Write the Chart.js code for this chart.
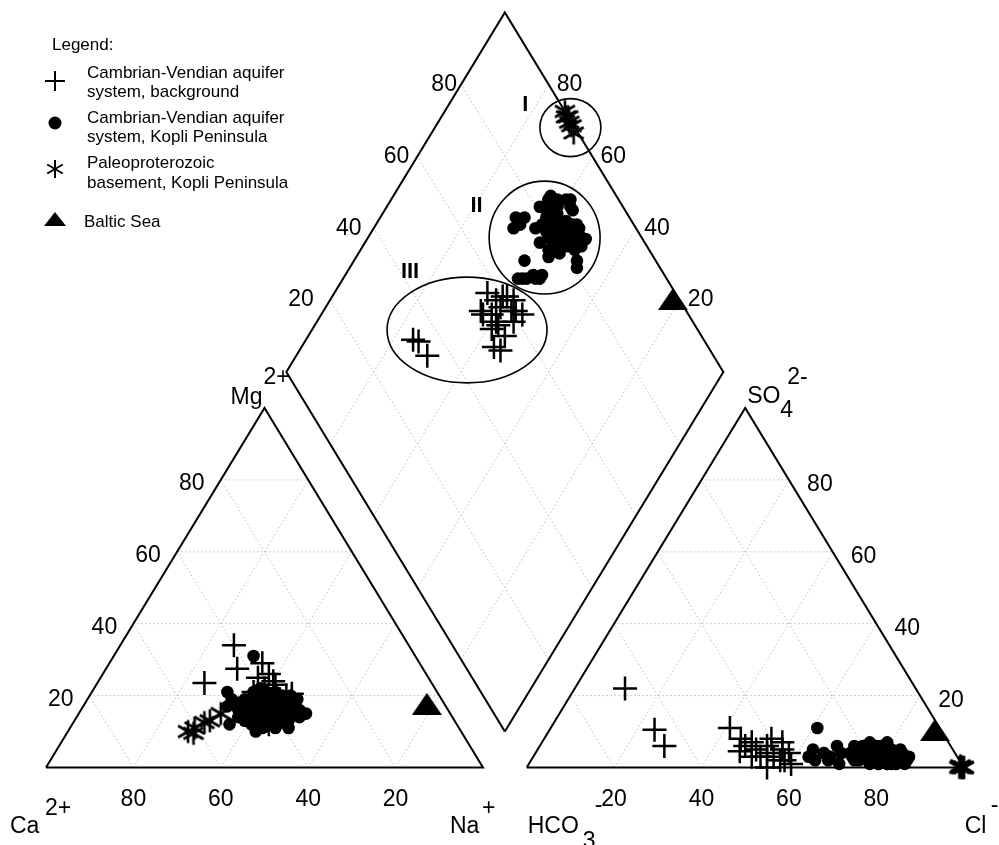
<!DOCTYPE html>
<html>
<head>
<meta charset="utf-8">
<script src="https://cdn.jsdelivr.net/npm/chart.js@4.4.1/dist/chart.umd.min.js"></script>
<style>
  html, body { margin: 0; padding: 0; background: #fff; }
  #wrap { width: 999px; height: 845px; position: relative; }
</style>
</head>
<body>
<div id="wrap"><canvas id="piper"></canvas></div>
<script>
// ---- Sample compositions (% meq/L) ----
// Cations: Mg2+ and Na+ (+K+); Ca2+ is the remainder.
// Anions: SO4 2- and Cl-; HCO3- is the remainder.

// Cambrian-Vendian aquifer system, background
const bgMg  = [23.5, 34, 27.5, 20.5, 13, 29, 26, 24, 12, 20, 18, 22, 17, 21, 15, 19, 25, 16, 23, 18, 14, 20];
const bgNa  = [24.5, 26, 30, 46, 44, 35, 38, 40, 45, 42, 41, 39, 43, 37, 40, 44, 36, 46, 41, 39, 42, 45];
const bgSO4 = [22, 10.5, 6, 11, 4.5, 4, 6, 3, 2, 5, 7, 2, 8, 3, 5, 1, 6, 4, 8, 0, 7, 3];
const bgCl  = [11.5, 24, 28.5, 41, 46.5, 53, 52, 55, 57, 50, 48, 58, 52, 50, 56, 60, 47, 58, 45, 55, 55, 52];

// Cambrian-Vendian aquifer system, Kopli Peninsula
const kpMg  = [15, 18, 14, 20, 12, 31, 17, 16, 19, 13, 15, 18, 11, 16, 14, 20, 17, 12, 15, 21, 13, 16, 19, 14, 17, 11, 18, 15,
               20, 13, 16, 22, 12, 17, 14, 19, 15, 18, 10, 16, 21, 13, 17, 14, 19, 12, 16, 20, 21, 19, 15, 11, 16, 13, 19,
               17, 14, 19, 16, 12, 18, 15, 20, 13, 17, 21, 14, 16, 18, 15, 19, 13, 17, 16, 20, 14, 18, 12, 15, 19];
const kpNa  = [40, 42, 44, 39, 45, 32, 33, 38, 36, 40, 43, 45, 47, 50, 48, 41, 38, 42, 39, 37, 46, 44, 43, 41, 47, 44, 40, 37,
               46, 49, 42, 38, 36, 45, 51, 40, 46, 35, 43, 48, 42, 39, 44, 38, 47, 41, 36, 44, 31, 33, 52, 50, 41, 43, 45,
               42, 45, 39, 40, 47, 43, 41, 38, 44, 46, 40, 37, 45, 41, 48, 42, 42, 39, 47, 43, 40, 37, 45, 43, 48];
const kpSO4 = [3, 5, 2, 4, 1, 11, 6, 7, 5, 3, 4, 2, 3, 1, 2, 6, 4, 2, 6, 3, 5, 1, 4, 3, 2, 6, 2, 4,
               3, 1, 5, 2, 3, 7, 2, 1, 4, 3, 2, 5, 3, 1, 4, 2, 6, 3, 2, 6, 4, 3, 2, 1, 2, 4, 3,
               3, 2, 4, 6, 2, 1, 3, 5, 4, 2, 3, 5, 3, 2, 4, 5, 1, 3, 6, 2, 4, 1, 3, 2, 3];
const kpCl  = [63, 63, 68, 66, 71, 61, 68, 75, 80, 80, 78, 82, 83, 86, 84, 74, 77, 79, 74, 79, 74, 80, 81, 76, 85, 77, 74, 73,
               78, 82, 76, 84, 81, 79, 80, 78, 83, 78, 75, 81, 76, 84, 72, 77, 76, 86, 82, 72, 70, 73, 79, 84, 65, 66, 68,
               79, 81, 80, 77, 83, 82, 78, 77, 80, 84, 81, 79, 76, 80, 82, 83, 80, 82, 78, 79, 84, 83, 77, 86, 80];

// Paleoproterozoic basement, Kopli Peninsula
const bmMg  = [10, 11, 12.5, 15, 9.5, 13];
const bmNa  = [27.5, 28.5, 30, 32.5, 29, 31];
const bmSO4 = [0, 0, 0.5, 0, 0, 0];
const bmCl  = [100, 99.5, 99, 99, 100, 99.5];

// Baltic Sea
const seaMg  = [17.7];
const seaNa  = [78.3];
const seaSO4 = [10.4];
const seaCl  = [88.2];

const gridTicks = [20, 40, 60, 80];

const seriesNames = [
  ['Cambrian-Vendian aquifer', 'system, background'],
  ['Cambrian-Vendian aquifer', 'system, Kopli Peninsula'],
  ['Paleoproterozoic', 'basement, Kopli Peninsula'],
  ['Baltic Sea']
];

// Water groups outlined in the diamond field: centre as (SO4+Cl, Ca+Mg) %
const groupNames = ['I', 'II', 'III'];
const groupSum   = [99, 77.8, 47.2];   // SO4 + Cl
const groupCaMg  = [69, 59.6, 64.5];   // Ca + Mg

// ---- Piper geometry ----
// x in triangle side lengths, y in triangle heights; GAP separates the triangles.
const GAP = 0.1;
const cationXY  = (mg, na) => ({ x: na / 100 + mg / 200, y: mg / 100 });
const anionXY   = (so4, cl) => ({ x: 1 + GAP + cl / 100 + so4 / 200, y: so4 / 100 });
const diamondXY = (s, t) => ({ x: 1 + GAP / 2 + (s - t) / 200, y: GAP + (s + t) / 100 });

function samplePoints(mg, na, so4, cl) {
  const pts = [];
  mg.forEach((m, i) => pts.push(cationXY(m, na[i])));
  so4.forEach((s, i) => pts.push(anionXY(s, cl[i])));
  mg.forEach((m, i) => pts.push(diamondXY(so4[i] + cl[i], 100 - na[i])));
  return pts;
}

// ---- marker images ----
function makeAsterisk(size, r, lw) {
  const c = document.createElement('canvas');
  c.width = size; c.height = size;
  const g = c.getContext('2d');
  g.strokeStyle = '#000'; g.lineWidth = lw;
  const m = size / 2;
  [90, 30, 150].forEach(a => {
    const rad = a * Math.PI / 180;
    g.beginPath();
    g.moveTo(m - Math.cos(rad) * r, m - Math.sin(rad) * r);
    g.lineTo(m + Math.cos(rad) * r, m + Math.sin(rad) * r);
    g.stroke();
  });
  return c;
}
function makeTriangle(w, h) {
  const c = document.createElement('canvas');
  c.width = w; c.height = h;
  const g = c.getContext('2d');
  g.fillStyle = '#000';
  g.beginPath(); g.moveTo(w / 2, 0); g.lineTo(w, h); g.lineTo(0, h); g.closePath(); g.fill();
  return c;
}
const asteriskImg = makeAsterisk(26, 11.5, 2.6);
const triangleImg = makeTriangle(30, 22);

// ---- line datasets: outlines and grid ----
const lineDS = (pts, opts) => Object.assign({
  data: pts, showLine: true, pointRadius: 0, pointHoverRadius: 0, fill: false,
  borderColor: '#000', borderWidth: 2
}, opts);

const outlines = [
  [cationXY(0, 0), cationXY(0, 100), cationXY(100, 0), cationXY(0, 0)],
  [anionXY(0, 0), anionXY(0, 100), anionXY(100, 0), anionXY(0, 0)],
  [diamondXY(0, 0), diamondXY(100, 0), diamondXY(100, 100), diamondXY(0, 100), diamondXY(0, 0)]
].map(p => lineDS(p, { order: 4 }));

const gridSegs = [];
gridTicks.forEach(v => {
  gridSegs.push([cationXY(v, 0), cationXY(v, 100 - v)]);
  gridSegs.push([cationXY(0, v), cationXY(100 - v, v)]);
  gridSegs.push([cationXY(0, 100 - v), cationXY(100 - v, 0)]);
  gridSegs.push([anionXY(v, 0), anionXY(v, 100 - v)]);
  gridSegs.push([anionXY(0, v), anionXY(100 - v, v)]);
  gridSegs.push([anionXY(0, 100 - v), anionXY(100 - v, 0)]);
  gridSegs.push([diamondXY(v, 0), diamondXY(v, 100)]);
  gridSegs.push([diamondXY(0, v), diamondXY(100, v)]);
});
const grid = gridSegs.map(p => lineDS(p, { order: 5, borderColor: '#bdbdbd', borderWidth: 1, borderDash: [1.5, 2.5] }));

// ---- sample datasets ----
const markers = [
  { label: seriesNames[3].join(' '), data: samplePoints(seaMg, seaNa, seaSO4, seaCl),
    pointStyle: triangleImg, pointRadius: 12, order: 0 },
  { label: seriesNames[2].join(' '), data: samplePoints(bmMg, bmNa, bmSO4, bmCl),
    pointStyle: asteriskImg, pointRadius: 11, order: 1 },
  { label: seriesNames[0].join(' '), data: samplePoints(bgMg, bgNa, bgSO4, bgCl),
    pointStyle: 'cross', pointRadius: 12, borderWidth: 2.5, borderColor: '#000', order: 2 },
  { label: seriesNames[1].join(' '), data: samplePoints(kpMg, kpNa, kpSO4, kpCl),
    pointStyle: 'circle', pointRadius: 6.3, borderWidth: 0, backgroundColor: '#000', borderColor: '#000', order: 3 }
].map(d => Object.assign({ showLine: false, pointHoverRadius: d.pointRadius }, d));

// ---- text, ellipses and legend ----
const FONT = '"Liberation Sans", Arial, Helvetica, sans-serif';

const overlay = {
  id: 'piperOverlay',
  afterDatasetsDraw(chart) {
    const { ctx } = chart;
    const xs = chart.scales.x, ys = chart.scales.y;
    const P = p => [xs.getPixelForValue(p.x), ys.getPixelForValue(p.y)];
    const text = (str, x, y, size, align, base, bold) => {
      ctx.font = (bold ? 'bold ' : '') + size + 'px ' + FONT;
      ctx.textAlign = align || 'left';
      ctx.textBaseline = base || 'alphabetic';
      ctx.fillText(str, x, y);
    };
    ctx.save();
    ctx.fillStyle = '#000';

    // tick labels
    gridTicks.forEach(v => {
      let [x, y] = P(cationXY(0, 100 - v));       // Ca2+ along the base
      text(String(v), x, y + 32, 23, 'center', 'middle');
      [x, y] = P(cationXY(v, 0));                 // Mg2+ along the left edge
      text(String(v), x - 29, y + 4, 23, 'center', 'middle');
      [x, y] = P(anionXY(0, v));                  // Cl- along the base
      text(String(v), x, y + 32, 23, 'center', 'middle');
      [x, y] = P(anionXY(v, 100 - v));            // SO4 2- along the right edge
      text(String(v), x + 31, y + 5, 23, 'center', 'middle');
      [x, y] = P(diamondXY(v, 100));              // SO4+Cl on the diamond
      text(String(v), x - 17 - (80 - v) * 0.2, y, 23, 'center', 'middle');
      [x, y] = P(diamondXY(100, v));              // Ca+Mg on the diamond
      text(String(v), x + 21, y, 23, 'center', 'middle');
    });

    // corner ion labels
    const TS = 23;
    let [cx, cy] = P(cationXY(0, 0));
    text('Ca', cx - 36, cy + 65, TS); text('2+', cx - 1, cy + 47, TS);
    [cx, cy] = P(cationXY(0, 100));
    text('Na', cx - 33, cy + 65, TS); text('+', cx - 1, cy + 47, TS);
    [cx, cy] = P(cationXY(100, 0));
    text('Mg', cx - 2, cy - 4, TS, 'right'); text('2+', cx - 1, cy - 24, TS);
    [cx, cy] = P(anionXY(0, 0));
    text('HCO', cx + 1, cy + 65, TS); text('3', cx + 56, cy + 80, TS); text('-', cx + 68, cy + 44, TS);
    [cx, cy] = P(anionXY(0, 100));
    text('Cl', cx + 1, cy + 65, TS); text('-', cx + 27, cy + 44, TS);
    [cx, cy] = P(anionXY(100, 0));
    text('SO', cx + 2, cy - 5, TS); text('4', cx + 35, cy + 9, TS); text('2-', cx + 42, cy - 24, TS);

    // group outlines in the diamond
    const radii = [[0.0698, 0.0807], [0.127, 0.157], [0.183, 0.147]];
    const labelOffset = [[-45, -23], [-68, -32], [-57, -58]];
    ctx.strokeStyle = '#000';
    ctx.lineWidth = 1.6;
    groupNames.forEach((name, i) => {
      const c = diamondXY(groupSum[i], groupCaMg[i]);
      const [ex, ey] = P(c);
      const rx = xs.getPixelForValue(c.x + radii[i][0]) - ex;
      const ry = ey - ys.getPixelForValue(c.y + radii[i][1]);
      ctx.beginPath();
      ctx.ellipse(ex, ey, rx, ry, 0, 0, Math.PI * 2);
      ctx.stroke();
      text(name, ex + labelOffset[i][0], ey + labelOffset[i][1], 22, 'center', 'middle', true);
    });

    // legend
    const LS = 17;
    text('Legend:', 52, 45, LS, 'left', 'middle');
    // cross
    ctx.lineWidth = 2;
    ctx.beginPath();
    ctx.moveTo(45, 81); ctx.lineTo(65, 81);
    ctx.moveTo(55, 71); ctx.lineTo(55, 91);
    ctx.stroke();
    text(seriesNames[0][0], 87, 73, LS, 'left', 'middle');
    text(seriesNames[0][1], 87, 92, LS, 'left', 'middle');
    // dot
    ctx.beginPath(); ctx.arc(55, 123, 6.5, 0, Math.PI * 2); ctx.fill();
    text(seriesNames[1][0], 87, 118, LS, 'left', 'middle');
    text(seriesNames[1][1], 87, 137, LS, 'left', 'middle');
    // asterisk
    ctx.drawImage(makeAsterisk(22, 9, 2), 55 - 11, 169 - 11);
    text(seriesNames[2][0], 87, 163, LS, 'left', 'middle');
    text(seriesNames[2][1], 87, 183, LS, 'left', 'middle');
    // triangle
    ctx.drawImage(makeTriangle(22, 14), 55 - 11, 219 - 7);
    text(seriesNames[3][0], 84, 222, LS, 'left', 'middle');

    ctx.restore();
  }
};

new Chart(document.getElementById('piper'), {
  type: 'scatter',
  data: { datasets: [...markers, ...outlines, ...grid] },
  options: {
    responsive: true,
    maintainAspectRatio: false,
    animation: false,
    events: [],
    layout: { padding: 0, autoPadding: false },
    plugins: { legend: { display: false }, tooltip: { enabled: false } },
    scales: {
      x: { type: 'linear', display: false, bounds: 'data', min: -46 / 437, max: 953 / 437 },
      y: { type: 'linear', display: false, bounds: 'data', min: -77.5 / 359.5, max: 767.5 / 359.5 }
    }
  },
  plugins: [overlay]
});
</script>
</body>
</html>
